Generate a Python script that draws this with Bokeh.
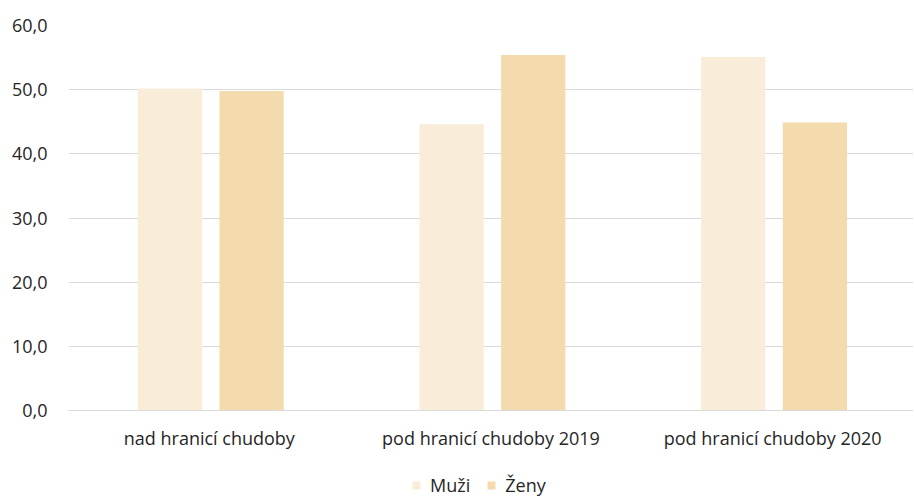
from bokeh.plotting import figure
from bokeh.layouts import column
from bokeh.models import (ColumnDataSource, FactorRange, Range1d, Legend, LegendItem,
                          CustomJSTickFormatter, FixedTicker)
from bokeh.transform import dodge
from bokeh.embed import file_html
from bokeh.resources import INLINE

categories = ["nad hranicí chudoby", "pod hranicí chudoby 2019", "pod hranicí chudoby 2020"]
muzi = [50.2, 44.6, 55.1]
zeny = [49.8, 55.4, 44.9]
series_names = ["Muži", "Ženy"]
y_ticks = [0, 10, 20, 30, 40, 50, 60]

colors = ["#F9EDDA", "#F3DBAD"]
FONT = "Open Sans"
TXT = "#262626"

src = ColumnDataSource(dict(cat=categories, muzi=muzi, zeny=zeny))

p = figure(x_range=FactorRange(*categories, range_padding=0), y_range=(0, 60),
           frame_width=845, frame_height=385, output_backend="svg", toolbar_location=None,
           min_border_left=68, min_border_top=25, min_border_right=0, min_border_bottom=52)

p.vbar(x=dodge("cat", -0.14, range=p.x_range), top="muzi", width=0.228, source=src,
       fill_color=colors[0], line_color=None)
p.vbar(x=dodge("cat", 0.15, range=p.x_range), top="zeny", width=0.228, source=src,
       fill_color=colors[1], line_color=None)

p.outline_line_color = None
p.xgrid.grid_line_color = None
p.ygrid.grid_line_color = "#D9D9D9"
p.ygrid.grid_line_width = 1
p.yaxis.ticker = FixedTicker(ticks=y_ticks)
p.yaxis.formatter = CustomJSTickFormatter(code="return tick.toFixed(1).replace('.', ',');")
p.yaxis.axis_line_color = None
p.yaxis.major_tick_line_color = None
p.yaxis.minor_tick_line_color = None
p.yaxis.major_label_standoff = 15
p.xaxis.axis_line_color = "#D9D9D9"
p.xaxis.major_tick_line_color = None
p.xaxis.minor_tick_line_color = None
p.xaxis.major_label_standoff = 9
for ax in (p.xaxis, p.yaxis):
    ax.major_label_text_font = FONT
    ax.major_label_text_font_size = "18px"
    ax.major_label_text_color = TXT

# separate strip holding the legend under the chart; its bars lie outside its visible range
lg = figure(x_range=FactorRange(*categories), y_range=Range1d(100, 101), width=913, height=35,
            output_backend="svg", toolbar_location=None,
            min_border=0, outline_line_color=None)
lg.axis.visible = False
lg.grid.visible = False
e1 = lg.vbar(x="cat", top="muzi", width=0.2, source=src, fill_color=colors[0], line_color=None)
e2 = lg.vbar(x="cat", top="zeny", width=0.2, source=src, fill_color=colors[1], line_color=None)
legend = Legend(items=[LegendItem(label=series_names[0], renderers=[e1], index=0),
                       LegendItem(label=series_names[1], renderers=[e2], index=0)],
                orientation="horizontal", location=(343, 0),
                glyph_width=10, glyph_height=10, label_height=20, label_text_font=FONT,
                label_text_font_size="18px", label_text_color=TXT,
                border_line_color=None, background_fill_alpha=0,
                spacing=16, label_standoff=9, padding=0, margin=0)
lg.add_layout(legend, "center")

layout = column(p, lg, spacing=0)
open("out.html", "w").write(file_html(layout, INLINE))
